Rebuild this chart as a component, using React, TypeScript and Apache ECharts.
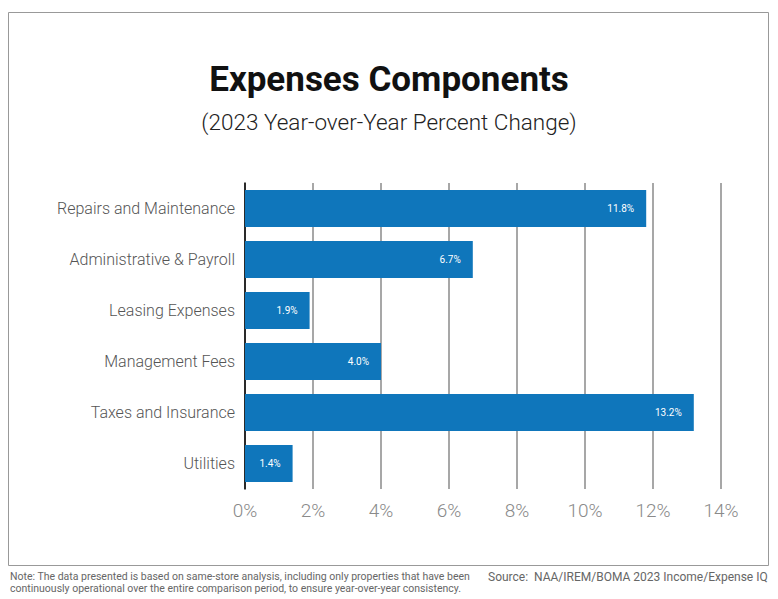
import React, { useEffect, useRef } from "react";
import * as echarts from "echarts";

const categories = [
  "Repairs and Maintenance",
  "Administrative & Payroll",
  "Leasing Expenses",
  "Management Fees",
  "Taxes and Insurance",
  "Utilities",
];
const values = [11.8, 6.7, 1.9, 4.0, 13.2, 1.4];
const titleText = "Expenses Components";
const subtitleText = "(2023 Year-over-Year Percent Change)";
const noteLines = [
  "Note: The data presented is based on same-store analysis, including only properties that have been",
  "continuously operational over the entire comparison period, to ensure year-over-year consistency.",
];
const sourceText = "Source:  NAA/IREM/BOMA 2023 Income/Expense IQ";

const FONT = "Roboto, 'Noto Sans', sans-serif";

export default function App() {
  const ref = useRef<HTMLDivElement>(null);
  useEffect(() => {
    if (!ref.current) return;
    const chart = echarts.init(ref.current, null, { renderer: "svg" });
    chart.setOption({
      animation: false,
      backgroundColor: "#ffffff",
      textStyle: { fontFamily: FONT },
      title: [
        {
          text: titleText,
          left: "center",
          top: 57,
          textStyle: { fontSize: 35, fontWeight: "bold", color: "#111", fontFamily: FONT },
        },
        {
          text: subtitleText,
          left: "center",
          top: 105,
          textStyle: { fontSize: 22.5, fontWeight: 300, color: "#222", fontFamily: FONT },
        },
      ],
      grid: { left: 245, right: 57, top: 183, bottom: 110, containLabel: false },
      xAxis: {
        type: "value",
        min: 0,
        max: 14,
        interval: 2,
        axisLine: { show: false },
        axisTick: { show: false },
        splitLine: { show: true, lineStyle: { color: "#8a8a8a", width: 1.5 } },
        axisLabel: {
          formatter: (v: number) => `${v}%`,
          fontSize: 19,
          fontWeight: 300,
          color: "#8a8a8a",
          margin: 12,
          fontFamily: FONT,
        },
      },
      yAxis: {
        type: "category",
        data: categories,
        inverse: true,
        axisLine: { show: true, lineStyle: { color: "#000", width: 1.5 } },
        axisTick: { show: false },
        axisLabel: { fontSize: 16, fontWeight: 300, color: "#555", margin: 10, fontFamily: FONT },
      },
      series: [
        {
          type: "bar",
          data: values,
          barWidth: 37,
          itemStyle: { color: "#0f76bb" },
          label: {
            show: true,
            position: "insideRight",
            color: "#fff",
            fontSize: 10,
            distance: 12,
            formatter: (p: any) => `${p.value.toFixed(1)}%`,
            fontFamily: FONT,
          },
        },
      ],
      graphic: [
        {
          type: "rect",
          shape: { x: 8.5, y: 12.5, width: 760, height: 553 },
          style: { fill: "none", stroke: "#999", lineWidth: 1 },
        },
        {
          type: "text",
          left: 10,
          top: 571,
          style: {
            text: noteLines[0],
            fontSize: 10.5,
            fill: "#666",
            fontFamily: FONT,
          },
        },
        {
          type: "text",
          left: 10,
          top: 583,
          style: {
            text: noteLines[1],
            fontSize: 10.5,
            fill: "#666",
            fontFamily: FONT,
          },
        },
        {
          type: "text",
          left: 488,
          top: 571,
          style: { text: sourceText, fontSize: 12, fill: "#666", fontFamily: FONT },
        },
      ],
    });
    return () => chart.dispose();
  }, []);
  return (
    <div
      ref={ref}
      style={{ position: "absolute", left: 0, top: 0, width: 778, height: 599 }}
    />
  );
}
